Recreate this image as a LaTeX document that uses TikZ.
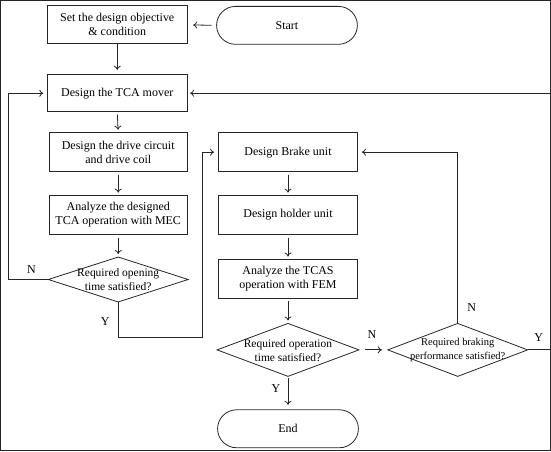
\documentclass[tikz,border=0pt]{standalone}
\usepackage{fontspec}
\setmainfont{Liberation Serif}
\usetikzlibrary{arrows.meta,shapes.geometric}
\begin{document}
\begin{tikzpicture}[x=1pt,y=-1pt,
  every path/.style={line width=0.8pt, draw=black!85},
  procbox/.style={draw, rectangle, minimum width=140pt, minimum height=38pt, inner sep=0pt, outer sep=0pt, align=center, font=\fontsize{12}{14}\selectfont},
  termbox/.style={draw, rectangle, rounded corners=19pt, minimum width=141pt, minimum height=38pt, inner sep=0pt, outer sep=0pt, font=\fontsize{12}{14}\selectfont},
  decbox/.style={draw, diamond, inner sep=0pt, outer sep=0pt},
  dectext/.style={align=center, inner sep=0pt, font=\fontsize{11.5}{14}\selectfont},
  lbl/.style={inner sep=0pt, font=\fontsize{12}{14}\selectfont},
  arr/.style={-{To[length=4pt,width=7pt]}},
  gapv/.style={shorten <=3pt, shorten >=3pt}
]
\useasboundingbox (0,0) rectangle (551,451);

\node[procbox] (b1) at (117,24.5) {Set the design objective\\\& condition};
\node[termbox] (start) at (287,25) {Start};
\node[procbox, minimum height=37pt] (b2) at (117,93) {Design the TCA mover};
\node[procbox, minimum width=138pt, minimum height=39pt] (b3) at (118,152) {Design the drive circuit\\and drive coil};
\node[procbox, minimum width=138pt, minimum height=39pt] (b4) at (118,215) {Analyze the designed\\TCA operation with MEC};
\node[decbox, minimum width=140pt, minimum height=45pt] (d1) at (118,279.5) {};
\node[dectext] at (118,280) {Required opening\\time satisfied?};

\node[procbox, minimum height=39pt] (b5) at (288,152) {Design Brake unit};
\node[procbox, minimum height=39pt] (b6) at (288,215) {Design holder unit};
\node[procbox, minimum height=39pt] (b7) at (288,279) {Analyze the TCAS\\operation with FEM};
\node[decbox, minimum width=142pt, minimum height=53pt] (d2) at (288,350) {};
\node[dectext] at (288,351) {Required operation\\time satisfied?};
\node[termbox] (end) at (288,429) {End};
\node[decbox, minimum width=140pt, minimum height=53pt] (d3) at (458,350) {};
\node[dectext, font=\fontsize{10.5}{13.5}\selectfont] at (458,350) {Required braking\\performance satisfied?};

\coordinate (rf) at (551,93);
\coordinate (yc) at (202,337);
\coordinate (ye) at (551,350);

% connectors
\draw[arr, shorten <=5pt, shorten >=6pt] (start.west) -- (b1.east);
\draw[arr, shorten >=5pt] (b1.south) -- (b2.north);
\draw[arr, gapv] (b2.south) -- (b3.north);
\draw[arr, gapv] (b3.south) -- (b4.north);
\draw[arr, gapv] (b4.south) -- (d1.north);
\draw[arr, shorten >=4pt] (d1.west) -- ++(-40,0) |- (b2.west);
\draw[arr, shorten >=3pt] (rf) -- (b2.east);
\draw[arr, shorten >=4pt] (d1.south) |- (yc) |- (b5.west);
\draw[arr, gapv] (b5.south) -- (b6.north);
\draw[arr, gapv] (b6.south) -- (b7.north);
\draw[arr, gapv] (b7.south) -- (d2.north);
\draw[arr, shorten <=2pt, shorten >=5pt] (d2.south) -- (end.north);
\draw[arr, shorten <=6pt, shorten >=6pt] (d2.east) -- (d3.west);
\draw[arr, shorten >=4pt] (d3.north) |- (b5.east);
\draw (d3.east) -- (ye);

% labels
\node[lbl] (lN1) at (31,270) {N};
\node[lbl] (lY1) at (105,322) {Y};
\node[lbl] (lY2) at (276,389) {Y};
\node[lbl] (lN2) at (372,335) {N};
\node[lbl] (lN3) at (472,308) {N};
\node[lbl] (lY3) at (539,338) {Y};
\end{tikzpicture}
\end{document}
